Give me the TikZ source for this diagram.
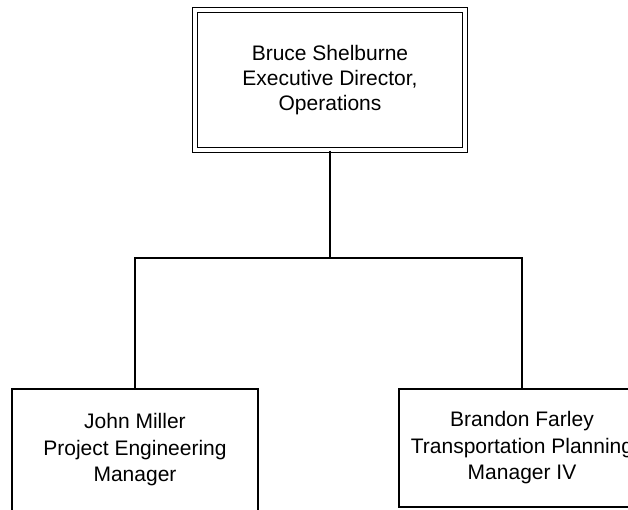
\documentclass[tikz,border=0pt]{standalone}
\usepackage{fontspec}
\setmainfont{Liberation Sans}
\usetikzlibrary{positioning}
\tikzset{
  headbox/.style={draw, double, line width=1.4pt, double distance=3.4pt, fill=white, minimum width=270pt, minimum height=140pt, align=center, font=\fontsize{21}{25}\selectfont},
  staffbox/.style={draw, line width=1.4pt, fill=white, minimum width=246pt, align=center, font=\fontsize{21}{26.5}\selectfont},
  link/.style={line width=1.5pt}
}
\begin{document}
\begin{tikzpicture}[x=1pt, y=1pt]
  \useasboundingbox (0,0) rectangle (628,-509);
  \clip (0,0) rectangle (628,-509);
  \node[headbox] (exec) at (330,-80) {Bruce Shelburne\\Executive Director,\\Operations};
  \node[staffbox, minimum height=122pt] (miller) at (135,-450) {John Miller\\Project Engineering\\Manager};
  \node[staffbox, minimum height=118pt] (farley) at (522,-448) {Brandon Farley\\Transportation Planning\\Manager IV};
  \coordinate (bus) at (330,-258);
  \draw[link] (exec.south) -- (bus);
  \draw[link] (bus) -| (miller.north);
  \draw[link] (bus) -| (farley.north);
\end{tikzpicture}
\end{document}
